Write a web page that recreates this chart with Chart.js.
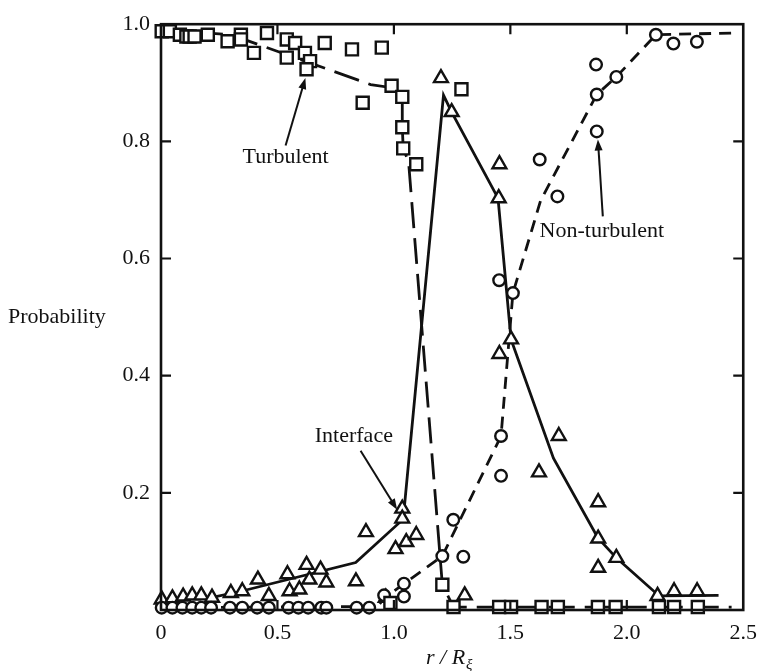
<!DOCTYPE html>
<html>
<head>
<meta charset="utf-8">
<script src="https://cdn.jsdelivr.net/npm/chart.js@4.4.0/dist/chart.umd.min.js"></script>
<style>
  html, body { margin: 0; padding: 0; background: #fff; }
  #wrap { width: 767px; height: 671px; }
</style>
</head>
<body>
<div id="wrap"><canvas id="prob-chart" width="767" height="671"></canvas></div>
<script>
// values, x = r/R_xi, y = probability
const xTickLabels = ['0', '0.5', '1.0', '1.5', '2.0', '2.5'];
const yTickLabels = ['', '0.2', '0.4', '0.6', '0.8', '1.0'];

// turbulent (squares)
const turbX = [0.003, 0.038, 0.081, 0.109, 0.123, 0.144, 0.201, 0.286, 0.343, 0.343,
  0.399, 0.455, 0.540, 0.576, 0.540, 0.618, 0.640, 0.625, 0.703, 0.820,
  0.948, 0.866, 0.990, 1.036, 1.036, 1.040, 1.096, 1.290, 1.208, 0.985,
  1.256, 1.452, 1.503, 1.634, 1.704, 1.876, 1.952, 2.138, 2.203, 2.305];
const turbY = [0.988, 0.988, 0.982, 0.979, 0.979, 0.979, 0.982, 0.971, 0.982, 0.974,
  0.951, 0.985, 0.974, 0.968, 0.943, 0.951, 0.937, 0.923, 0.968, 0.957,
  0.960, 0.866, 0.895, 0.876, 0.824, 0.788, 0.761, 0.889, 0.043, 0.012,
  0.005, 0.005, 0.005, 0.005, 0.005, 0.005, 0.005, 0.005, 0.005, 0.005];

// non-turbulent (circles)
const nonX = [0.003, 0.049, 0.092, 0.134, 0.173, 0.215, 0.296, 0.349, 0.413, 0.463,
  0.548, 0.590, 0.632, 0.688, 0.710, 0.840, 0.894, 0.958, 1.043, 1.043,
  1.208, 1.255, 1.298, 1.460, 1.460, 1.452, 1.511, 1.626, 1.702, 1.868,
  1.871, 1.871, 1.955, 2.125, 2.200, 2.301];
const nonY = [0.004, 0.004, 0.004, 0.004, 0.004, 0.004, 0.004, 0.004, 0.004, 0.004,
  0.004, 0.004, 0.004, 0.004, 0.004, 0.004, 0.004, 0.025, 0.045, 0.023,
  0.092, 0.154, 0.091, 0.297, 0.229, 0.563, 0.541, 0.769, 0.706, 0.931,
  0.880, 0.817, 0.910, 0.982, 0.967, 0.970];

// interface (triangles)
const intX = [0.003, 0.049, 0.095, 0.134, 0.173, 0.219, 0.300, 0.349, 0.416, 0.463,
  0.543, 0.552, 0.594, 0.625, 0.637, 0.685, 0.710, 0.837, 0.880, 0.965,
  1.007, 1.053, 1.096, 1.036, 1.036, 1.202, 1.248, 1.304, 1.453, 1.450,
  1.453, 1.503, 1.708, 1.623, 1.877, 1.877, 1.877, 1.955, 2.132, 2.203, 2.302];
const intY = [0.018, 0.020, 0.023, 0.025, 0.025, 0.021, 0.029, 0.032, 0.052, 0.024,
  0.061, 0.032, 0.035, 0.077, 0.052, 0.069, 0.047, 0.049, 0.133, 0.021,
  0.104, 0.116, 0.128, 0.173, 0.156, 0.908, 0.850, 0.025, 0.761, 0.703,
  0.437, 0.462, 0.297, 0.235, 0.184, 0.122, 0.072, 0.089, 0.024, 0.032, 0.032];

// drawn curves through the points
const turbLineX = [0, 0.3, 0.9, 0.985, 1.036, 1.036, 1.040, 1.063, 1.208, 1.256, 2.45];
const turbLineY = [0.99, 0.982, 0.897, 0.892, 0.876, 0.824, 0.788, 0.765, 0.043, 0.005, 0.005];
const nonLineX = [0, 0.93, 0.958, 1.208, 1.46, 1.511, 1.63, 1.871, 1.955, 2.125, 2.46];
const nonLineY = [0.004, 0.006, 0.02, 0.092, 0.297, 0.541, 0.699, 0.880, 0.910, 0.982, 0.985];
const intLineX = [0.2, 0.344, 0.836, 1.04, 1.213, 1.248, 1.447, 1.503, 1.685, 1.876, 1.955, 2.139, 2.394];
const intLineY = [0.02, 0.032, 0.081, 0.155, 0.879, 0.850, 0.703, 0.462, 0.259, 0.123, 0.089, 0.024, 0.025];

// labels with arrows (data coords)
const notes = [
  { text: 'Turbulent', x: 0.535, y: 0.773, from: [0.535, 0.793], to: [0.620, 0.908] },
  { text: 'Non-turbulent', x: 1.893, y: 0.647, from: [1.897, 0.672], to: [1.876, 0.803] },
  { text: 'Interface', x: 0.828, y: 0.296, from: [0.857, 0.272], to: [1.014, 0.171] }
];

const FONT = "'Liberation Serif', 'Times New Roman', serif";
const INK = '#111';

const zip = (xs, ys) => xs.map((x, i) => ({ x: x, y: ys[i] }));

const pointSet = (label, xs, ys, style, radius) => ({
  label: label,
  data: zip(xs, ys),
  showLine: false,
  pointStyle: style,
  pointRadius: radius,
  pointHoverRadius: radius,
  pointBackgroundColor: '#fff',
  pointBorderColor: INK,
  pointBorderWidth: 2.4,
  clip: false,
  order: 1
});

const lineSet = (label, xs, ys, dash) => ({
  label: label,
  data: zip(xs, ys),
  showLine: true,
  borderColor: INK,
  borderWidth: 2.8,
  borderDash: dash,
  pointRadius: 0,
  fill: false,
  order: 2
});

function arrow(ctx, x1, y1, x2, y2) {
  const ang = Math.atan2(y2 - y1, x2 - x1);
  const len = 11, half = 4;
  ctx.beginPath();
  ctx.moveTo(x1, y1);
  ctx.lineTo(x2 - Math.cos(ang) * len * 0.8, y2 - Math.sin(ang) * len * 0.8);
  ctx.stroke();
  ctx.beginPath();
  ctx.moveTo(x2, y2);
  ctx.lineTo(x2 - Math.cos(ang) * len - Math.sin(ang) * half, y2 - Math.sin(ang) * len + Math.cos(ang) * half);
  ctx.lineTo(x2 - Math.cos(ang) * len + Math.sin(ang) * half, y2 - Math.sin(ang) * len - Math.cos(ang) * half);
  ctx.closePath();
  ctx.fill();
}

const framePlugin = {
  id: 'frame',
  afterDatasetsDraw(chart) {
    const ctx = chart.ctx;
    const a = chart.chartArea;
    const xs = chart.scales.x, ys = chart.scales.y;
    ctx.save();
    ctx.strokeStyle = INK;
    ctx.lineWidth = 2.6;
    ctx.strokeRect(a.left, a.top, a.right - a.left, a.bottom - a.top);
    // inward ticks on all four sides
    ctx.lineWidth = 2.2;
    const tl = 10;
    ctx.beginPath();
    for (let i = 1; i < xTickLabels.length - 1; i++) {
      const px = xs.getPixelForValue(i * 0.5);
      ctx.moveTo(px, a.top); ctx.lineTo(px, a.top + tl);
      ctx.moveTo(px, a.bottom); ctx.lineTo(px, a.bottom - tl);
    }
    for (let i = 1; i < yTickLabels.length - 1; i++) {
      const py = ys.getPixelForValue(i * 0.2);
      ctx.moveTo(a.left, py); ctx.lineTo(a.left + tl, py);
      ctx.moveTo(a.right, py); ctx.lineTo(a.right - tl, py);
    }
    ctx.stroke();
    ctx.restore();
  },
  afterDraw(chart) {
    const ctx = chart.ctx;
    const a = chart.chartArea;
    const xs = chart.scales.x, ys = chart.scales.y;
    ctx.save();
    ctx.fillStyle = INK;
    ctx.strokeStyle = INK;
    ctx.textBaseline = 'middle';
    // y title, horizontal
    ctx.font = '22px ' + FONT;
    ctx.textAlign = 'left';
    ctx.fillText('Probability', 8, (a.top + a.bottom) / 2);
    // x title r/R_xi
    ctx.textBaseline = 'alphabetic';
    ctx.font = 'italic 22px ' + FONT;
    const main = 'r / R';
    const w = ctx.measureText(main).width;
    const tx = 426;
    ctx.fillText(main, tx, 664);
    ctx.font = 'italic 15px ' + FONT;
    ctx.fillText('\u03BE', tx + w + 1, 669);
    // annotations
    ctx.font = '22px ' + FONT;
    ctx.textAlign = 'center';
    ctx.textBaseline = 'middle';
    ctx.lineWidth = 2;
    notes.forEach(n => {
      ctx.fillText(n.text, xs.getPixelForValue(n.x), ys.getPixelForValue(n.y));
      arrow(ctx,
        xs.getPixelForValue(n.from[0]), ys.getPixelForValue(n.from[1]),
        xs.getPixelForValue(n.to[0]), ys.getPixelForValue(n.to[1]));
    });
    ctx.restore();
  }
};

new Chart(document.getElementById('prob-chart'), {
  type: 'scatter',
  data: {
    datasets: [
      pointSet('Turbulent', turbX, turbY, 'rect', 8.5),
      pointSet('Non-turbulent', nonX, nonY, 'circle', 5.8),
      pointSet('Interface', intX, intY, 'triangle', 8),
      lineSet('Turbulent curve', turbLineX, turbLineY, [26, 10]),
      lineSet('Non-turbulent curve', nonLineX, nonLineY, [12, 8]),
      lineSet('Interface curve', intLineX, intLineY, [])
    ]
  },
  options: {
    responsive: false,
    animation: false,
    devicePixelRatio: 1,
    layout: { padding: { left: 0, right: 17, top: 16, bottom: 0 } },
    plugins: {
      legend: { display: false },
      tooltip: { enabled: false }
    },
    scales: {
      x: {
        type: 'linear',
        min: 0,
        max: 2.5,
        grid: { display: false, drawTicks: false },
        border: { display: false },
        ticks: {
          stepSize: 0.5,
          padding: 10,
          color: INK,
          font: { family: FONT, size: 22 },
          maxRotation: 0,
          callback: (v, i) => xTickLabels[i]
        },
        afterFit: s => { s.height = 61; }
      },
      y: {
        type: 'linear',
        min: 0,
        max: 1,
        grid: { display: false, drawTicks: false },
        border: { display: false },
        ticks: {
          stepSize: 0.2,
          padding: 11,
          color: INK,
          font: { family: FONT, size: 22 },
          callback: (v, i) => yTickLabels[i]
        },
        afterFit: s => { s.width = 161; }
      }
    }
  },
  plugins: [framePlugin]
});
</script>
</body>
</html>
